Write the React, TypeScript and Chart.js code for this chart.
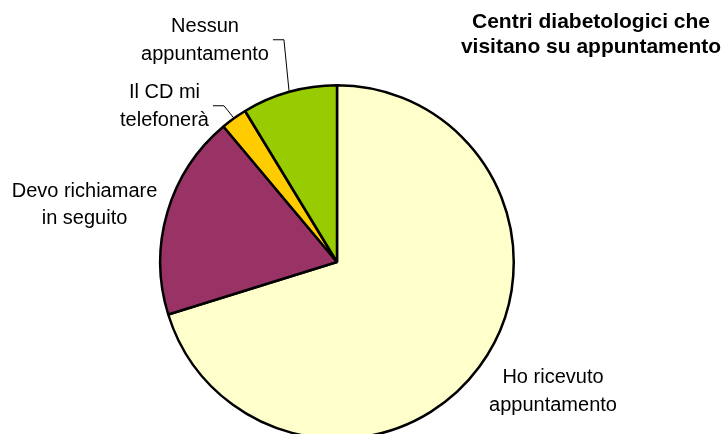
import React, { useEffect, useRef } from "react";
import { Chart, registerables } from "chart.js";

Chart.register(...registerables);

// ---- data ----
const categories: string[][] = [
  ["Ho ricevuto", "appuntamento"],
  ["Devo richiamare", "in seguito"],
  ["Il CD mi", "telefonerà"],
  ["Nessun", "appuntamento"],
];
const values: number[] = [70.2, 18.7, 2.4, 8.7];
const sliceColors: string[] = ["#FFFFCC", "#993366", "#FFCC00", "#99CC00"];
const titleLines: string[] = ["Centri diabetologici che", "visitano su appuntamento"];

// ---- label layout (offsets from pie centre) ----
const labelLayout = [
  { dx: 216, dy: 121, leader: false },
  { dx: -252.5, dy: -65.3, leader: false },
  { dx: -172.5, dy: -164, leader: true },
  { dx: -132, dy: -230, leader: true },
];
const LINE_H = 27.5;
const FONT = '"Liberation Sans", Arial, sans-serif';

const labelPlugin = {
  id: "pieLabels",
  afterDraw(chart: any) {
    const ctx = chart.ctx as CanvasRenderingContext2D;
    const meta = chart.getDatasetMeta(0);
    ctx.save();
    ctx.fillStyle = "#000";
    ctx.textAlign = "center";
    ctx.textBaseline = "alphabetic";
    ctx.font = `20px ${FONT}`;
    meta.data.forEach((arc: any, i: number) => {
      const { x, y, startAngle, endAngle, outerRadius } = arc.getProps(
        ["x", "y", "startAngle", "endAngle", "outerRadius"],
        true
      );
      const L = labelLayout[i];
      const lines = categories[i];
      const cx = x + L.dx;
      const b1 = y + L.dy;
      lines.forEach((t, k) => ctx.fillText(t, cx, b1 + k * LINE_H));
      if (L.leader) {
        const w = Math.max(...lines.map((t) => ctx.measureText(t).width));
        const ly = b1 + ((lines.length - 1) * LINE_H) / 2 - 6;
        const x0 = cx + w / 2 + 4;
        const x1 = x0 + 11;
        const mid = (startAngle + endAngle) / 2;
        const ex = x + Math.cos(mid) * (outerRadius + 1);
        const ey = y + Math.sin(mid) * (outerRadius + 1);
        ctx.strokeStyle = "#000";
        ctx.lineWidth = 1;
        ctx.beginPath();
        ctx.moveTo(x0, ly);
        ctx.lineTo(x1, ly);
        ctx.lineTo(ex, ey);
        ctx.stroke();
      }
    });
    // title
    ctx.font = `bold 21px ${FONT}`;
    ctx.textAlign = "center";
    titleLines.forEach((t, k) => ctx.fillText(t, 591, 28 + k * 25));
    ctx.restore();
  },
};

export default function App() {
  const ref = useRef<HTMLCanvasElement | null>(null);
  useEffect(() => {
    if (!ref.current) return;
    const chart = new Chart(ref.current, {
      type: "pie",
      data: {
        labels: categories.map((c) => c.join(" ")),
        datasets: [
          {
            data: values,
            backgroundColor: sliceColors,
            borderColor: "#000000",
            borderWidth: 2.5,
          },
        ],
      },
      options: {
        responsive: false,
        animation: false,
        devicePixelRatio: 1,
        layout: { padding: { left: 159, right: 206, top: 84, bottom: 20 } },
        plugins: {
          legend: { display: false },
          tooltip: { enabled: false },
          title: { display: false },
        },
      },
      plugins: [labelPlugin],
    });
    return () => chart.destroy();
  }, []);
  return (
    <div
      style={{
        position: "absolute",
        left: 0,
        top: 0,
        width: 721,
        height: 434,
        overflow: "hidden",
        background: "#fff",
      }}
    >
      <canvas ref={ref} width={721} height={460} style={{ width: 721, height: 460, display: "block" }} />
    </div>
  );
}
